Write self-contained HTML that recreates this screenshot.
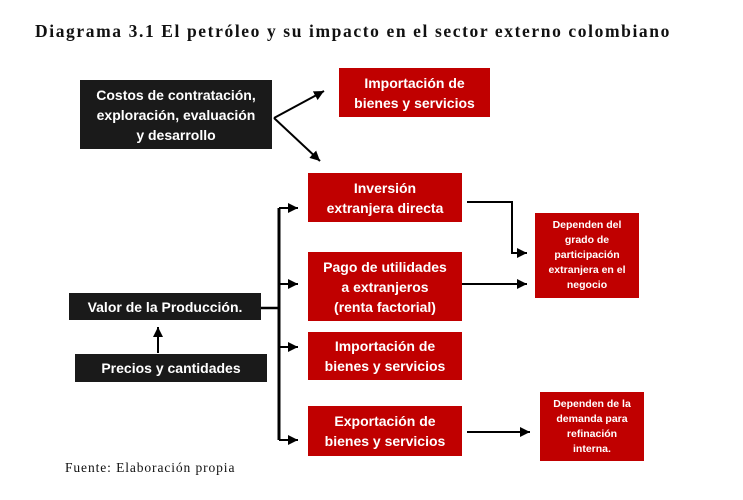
<!DOCTYPE html>
<html><head><meta charset="utf-8"><style>
body{margin:0;width:743px;height:500px;background:#fff;position:relative;overflow:hidden;font-family:"Liberation Sans",sans-serif}
.b{position:absolute;display:flex;align-items:center;justify-content:center;text-align:center;color:#fff;font-weight:bold;box-sizing:border-box}
.k{background:#1a1a1a;font-size:14px;line-height:20px}
.r{background:#c00000;font-size:14px;line-height:20px}
.s{background:#c00000;font-size:10.5px;line-height:15px}
</style></head><body>
<div style="position:absolute;left:35px;top:21px;font-family:'Liberation Serif',serif;font-weight:bold;font-size:17.5px;letter-spacing:1.6px;color:#111;white-space:nowrap">Diagrama 3.1 El petróleo y su impacto en el sector externo colombiano</div>
<div class="b k" style="left:80px;top:80px;width:192px;height:69px">Costos de contratación,<br>exploración, evaluación<br>y desarrollo</div>
<div class="b r" style="left:339px;top:68px;width:151px;height:49px">Importación de<br>bienes y servicios</div>
<div class="b r" style="left:308px;top:173px;width:154px;height:49px">Inversión<br>extranjera directa</div>
<div class="b r" style="left:308px;top:252px;width:154px;height:69px">Pago de utilidades<br>a extranjeros<br>(renta factorial)</div>
<div class="b r" style="left:308px;top:332px;width:154px;height:48px">Importación de<br>bienes y servicios</div>
<div class="b r" style="left:308px;top:406px;width:154px;height:50px">Exportación de<br>bienes y servicios</div>
<div class="b s" style="left:535px;top:213px;width:104px;height:85px">Dependen del<br>grado de<br>participación<br>extranjera en el<br>negocio</div>
<div class="b s" style="left:540px;top:392px;width:104px;height:69px">Dependen de la<br>demanda para<br>refinación<br>interna.</div>
<div class="b k" style="left:69px;top:293px;width:192px;height:27px">Valor de la Producción.</div>
<div class="b k" style="left:75px;top:354px;width:192px;height:28px">Precios y cantidades</div>
<div style="position:absolute;left:65px;top:460px;font-family:'Liberation Serif',serif;font-size:13.5px;letter-spacing:0.9px;color:#111;white-space:nowrap">Fuente: Elaboración propia</div>
<svg width="743" height="500" style="position:absolute;left:0;top:0" fill="none" stroke="#000" stroke-width="2.5">
<defs><marker id="a" markerWidth="6" markerHeight="6" refX="5" refY="3" orient="auto" markerUnits="strokeWidth"><path d="M0,0.5 L5,3 L0,5.5z" fill="#000" stroke="none"/></marker></defs>
<path d="M274,118 L320,161" stroke-width="2" marker-end="url(#a)"/>
<path d="M274,118 L324,91" stroke-width="2" marker-end="url(#a)"/>
<path d="M261,308 L279,308"/>
<path d="M279,208 L279,440" stroke-width="3"/>
<path d="M279,208 L298,208" marker-end="url(#a)" stroke-width="2"/>
<path d="M279,284 L298,284" marker-end="url(#a)" stroke-width="2"/>
<path d="M279,347 L298,347" marker-end="url(#a)" stroke-width="2"/>
<path d="M279,440 L298,440" marker-end="url(#a)" stroke-width="2"/>
<path d="M158,353 L158,327" marker-end="url(#a)" stroke-width="2"/>
<path d="M467,202 L512,202 L512,253 L527,253" marker-end="url(#a)" stroke-width="2"/>
<path d="M462,284 L527,284" marker-end="url(#a)" stroke-width="2"/>
<path d="M467,432 L530,432" marker-end="url(#a)" stroke-width="2"/>
</svg>
</body></html>
